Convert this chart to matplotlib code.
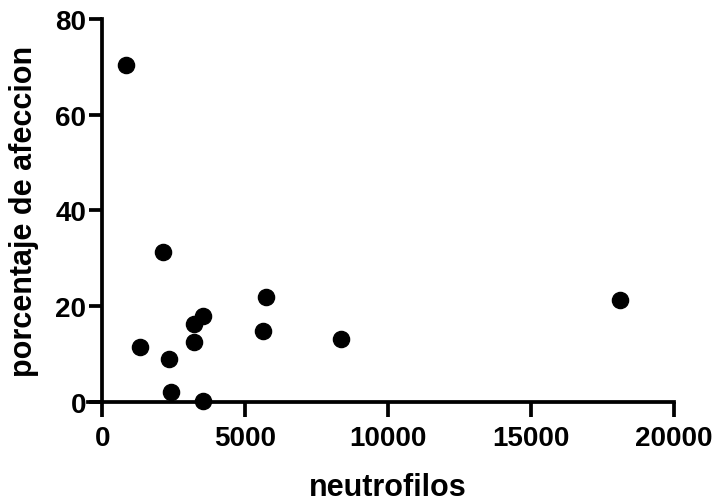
import matplotlib
matplotlib.use("Agg")
import matplotlib.pyplot as plt

neutrofilos = [840, 2120, 1330, 2320, 2410, 3220, 3540, 3220, 3540, 5640, 5730, 8360, 18110]
afeccion = [70.4, 31.2, 11.4, 8.9, 2.0, 16.2, 18.0, 12.4, 0.2, 14.7, 21.9, 13.1, 21.3]
xticks = [0, 5000, 10000, 15000, 20000]
yticks = [0, 20, 40, 60, 80]

plt.rcParams['font.family'] = ['Liberation Sans', 'DejaVu Sans']
fig = plt.figure(figsize=(7.2, 5.02), dpi=100)
ax = fig.add_axes([0.1222, 0.198, 0.8138, 0.762])
ax.scatter(neutrofilos, afeccion, s=135, color='black', zorder=3, clip_on=False)
ax.set_xlim(-500, 20000)
ax.set_ylim(0, 80)
ax.spines['left'].set_position(('data', 0))
ax.spines['top'].set_visible(False)
ax.spines['right'].set_visible(False)
for s in ['left', 'bottom']:
    ax.spines[s].set_linewidth(2.7)
ax.set_xticks(xticks)
ax.set_yticks(yticks)
ax.tick_params(axis='x', length=11, width=2.7, labelsize=20, pad=6)
ax.tick_params(axis='y', length=9.5, width=2.7, labelsize=20, pad=2)
for lab in ax.get_xticklabels() + ax.get_yticklabels():
    lab.set_fontweight('bold')
ax.set_xlabel('neutrofilos', fontsize=22, fontweight='bold')
ax.set_ylabel('porcentaje de afeccion', fontsize=22, fontweight='bold')
ax.xaxis.set_label_coords(0.512, -0.184)
ax.yaxis.set_label_coords(-0.0836, 0.5)
fig.savefig('out.png', dpi=100)
